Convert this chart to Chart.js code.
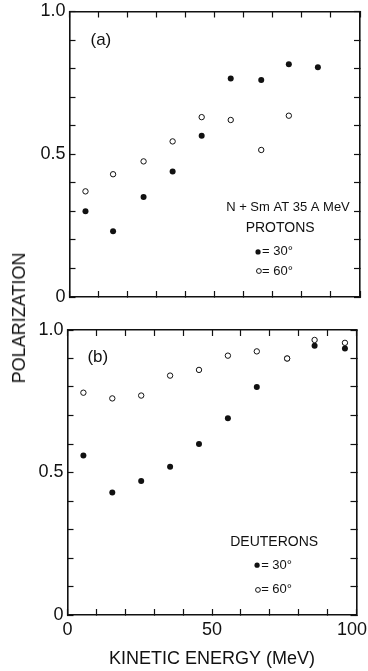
<!DOCTYPE html>
<html><head><meta charset="utf-8">
<script src="https://cdn.jsdelivr.net/npm/chart.js@4.4.0/dist/chart.umd.min.js"></script>
<style>
html,body{margin:0;padding:0;background:#fff;width:368px;height:671px;overflow:hidden;position:relative;font-family:"Liberation Sans",Arial,sans-serif;}
canvas{position:absolute;left:0;}
#c1{top:0;width:368px;height:320px;}
#c2{top:320px;width:368px;height:351px;}
#ytitle{position:absolute;left:19px;top:318px;transform:translate(-50%,-50%) rotate(-90deg);font-size:18px;color:#111;white-space:nowrap;line-height:1;}
</style></head><body>
<canvas id="c1" width="368" height="320"></canvas>
<canvas id="c2" width="368" height="351"></canvas>
<div id="ytitle">POLARIZATION</div>
<script>
// ---- data ----
const protonEnergy30 = [5.5, 15, 25.5, 35.5, 45.5, 55.5, 66, 75.5, 85.5];
const protonPol30    = [0.30, 0.23, 0.35, 0.44, 0.565, 0.765, 0.76, 0.815, 0.805];
const protonEnergy60 = [5.5, 15, 25.5, 35.5, 45.5, 55.5, 66, 75.5];
const protonPol60    = [0.37, 0.43, 0.475, 0.545, 0.63, 0.62, 0.515, 0.635];

const deuteronEnergy   = [5.5, 15.5, 25.5, 35.5, 45.5, 55.5, 65.5, 76, 85.5, 96];
const deuteronPol30    = [0.56, 0.43, 0.47, 0.52, 0.60, 0.69, 0.80, 0.90, 0.945, 0.935];
const deuteronPol60    = [0.78, 0.76, 0.77, 0.84, 0.86, 0.91, 0.925, 0.90, 0.965, 0.955];

const xTickValues = [0, 50, 100];
const xTickLabels = ['0', '50', '100'];
const yTickValues = [0, 0.5, 1];
const yTickLabels = ['0', '0.5', '1.0'];

const xTitleText = 'KINETIC ENERGY (MeV)';
const panelALabel = '(a)';
const panelBLabel = '(b)';
const reactionText = 'N + Sm AT 35 A MeV';
const protonsText = 'PROTONS';
const deuteronsText = 'DEUTERONS';
const angle30Text = '= 30\u00B0';
const angle60Text = '= 60\u00B0';

// ---- rendering ----
Chart.defaults.font.family = '"Liberation Sans", Arial, sans-serif';
Chart.defaults.color = '#111';
const INK = '#111';

function toPts(xs, ys){ return xs.map((v,i)=>({x:v, y:ys[i]})); }

const notePlugin = {
  id: 'notes',
  afterDatasetsDraw(chart, args, opts) {
    const {ctx} = chart; const x = chart.scales.x, y = chart.scales.y;
    ctx.save();
    (opts.texts||[]).forEach(t => {
      ctx.fillStyle = INK;
      ctx.font = t.size + 'px "Liberation Sans", Arial, sans-serif';
      ctx.textAlign = t.align || 'center';
      ctx.textBaseline = 'middle';
      ctx.fillText(t.text, x.getPixelForValue(t.x), y.getPixelForValue(t.y));
    });
    (opts.marks||[]).forEach(m => {
      ctx.beginPath();
      ctx.arc(x.getPixelForValue(m.x), y.getPixelForValue(m.y), m.r, 0, Math.PI*2);
      if (m.filled) { ctx.fillStyle = INK; ctx.fill(); }
      else { ctx.fillStyle = '#fff'; ctx.fill(); ctx.strokeStyle = INK; ctx.lineWidth = 1; ctx.stroke(); }
    });
    ctx.restore();
  }
};

function zeroPad(s){ s.paddingLeft = 0; s.paddingRight = 0; s.paddingTop = 0; s.paddingBottom = 0; }

function makeScales(showXLabels, xTitle, leftW, bottomH) {
  const grid = {drawOnChartArea:false, drawTicks:true, tickLength:-6, tickColor:INK, tickWidth:1.2, color:INK};
  const border = {display:true, color:INK, width:1.6};
  const hidden = () => '';
  return {
    x: {type:'linear', position:'bottom', min:0, max:100, grid, border,
      ticks:{stepSize:10, autoSkip:false, maxRotation:0, minRotation:0, padding:10, font:{size:18}, color:INK,
        callback: v => {
          const i = xTickValues.indexOf(Math.round(v));
          if (!showXLabels || i < 0) return '';
          // keep the last label inside the page edge
          return i === xTickValues.length - 1 ? xTickLabels[i] + '\u2002' : xTickLabels[i];
        }},
      title: xTitle ? {display:true, text:xTitle, font:{size:18}, color:INK, padding:{top:0, bottom:1}} : {display:false},
      afterFit: s => { s.height = bottomH; zeroPad(s); }},
    x2: {type:'linear', position:'top', min:0, max:100, grid, border,
      ticks:{stepSize:10, autoSkip:false, maxRotation:0, minRotation:0, callback: hidden},
      afterFit: s => { s.height = 0; zeroPad(s); }},
    y: {type:'linear', position:'left', min:0, max:1, grid, border,
      ticks:{stepSize:0.1, autoSkip:false, padding:10, font:{size:18}, color:INK,
        callback: v => { const r = Math.round(v*10)/10; const i = yTickValues.indexOf(r); return i >= 0 ? yTickLabels[i] : ''; }},
      afterFit: s => { s.width = leftW; zeroPad(s); }},
    y2: {type:'linear', position:'right', min:0, max:1, grid, border,
      ticks:{stepSize:0.1, autoSkip:false, callback: hidden},
      afterFit: s => { s.width = 0; zeroPad(s); }}
  };
}

function filledSet(data){ return {data, pointRadius:3, pointBackgroundColor:INK, pointBorderColor:INK, pointBorderWidth:0, showLine:false}; }
function openSet(data){ return {data, pointRadius:2.7, pointBackgroundColor:'#fff', pointBorderColor:INK, pointBorderWidth:1, showLine:false}; }

new Chart(document.getElementById('c1'), {
  type:'scatter',
  data:{datasets:[ openSet(toPts(protonEnergy60, protonPol60)), filledSet(toPts(protonEnergy30, protonPol30)) ]},
  options:{
    responsive:false, animation:false, devicePixelRatio:1,
    layout:{padding:{left:0, top:11.5, right:8, bottom:0}},
    scales: makeScales(false, null, 69.5, 23),
    plugins:{legend:{display:false}, tooltip:{enabled:false},
      notes:{
        texts:[
          {text:panelALabel, x:10.8, y:0.9, size:17},
          {text:reactionText, x:75.2, y:0.315, size:13},
          {text:protonsText, x:72.5, y:0.242, size:14},
          {text:angle30Text, x:66.3, y:0.158, size:13, align:'left'},
          {text:angle60Text, x:66.3, y:0.091, size:13, align:'left'}
        ],
        marks:[ {x:64.9, y:0.158, r:2.6, filled:true}, {x:65.2, y:0.091, r:2.4, filled:false} ]
      }}
  },
  plugins:[notePlugin]
});

new Chart(document.getElementById('c2'), {
  type:'scatter',
  data:{datasets:[ openSet(toPts(deuteronEnergy, deuteronPol60)), filledSet(toPts(deuteronEnergy, deuteronPol30)) ]},
  options:{
    responsive:false, animation:false, devicePixelRatio:1,
    layout:{padding:{left:0, top:10, right:11.5, bottom:0}},
    scales: makeScales(true, xTitleText, 67.5, 56),
    plugins:{legend:{display:false}, tooltip:{enabled:false},
      notes:{
        texts:[
          {text:panelBLabel, x:10.5, y:0.903, size:17},
          {text:deuteronsText, x:71.5, y:0.256, size:14},
          {text:angle30Text, x:67, y:0.175, size:13, align:'left'},
          {text:angle60Text, x:67, y:0.088, size:13, align:'left'}
        ],
        marks:[ {x:65.6, y:0.175, r:2.6, filled:true}, {x:65.9, y:0.088, r:2.4, filled:false} ]
      }}
  },
  plugins:[notePlugin]
});
</script>
</body></html>
